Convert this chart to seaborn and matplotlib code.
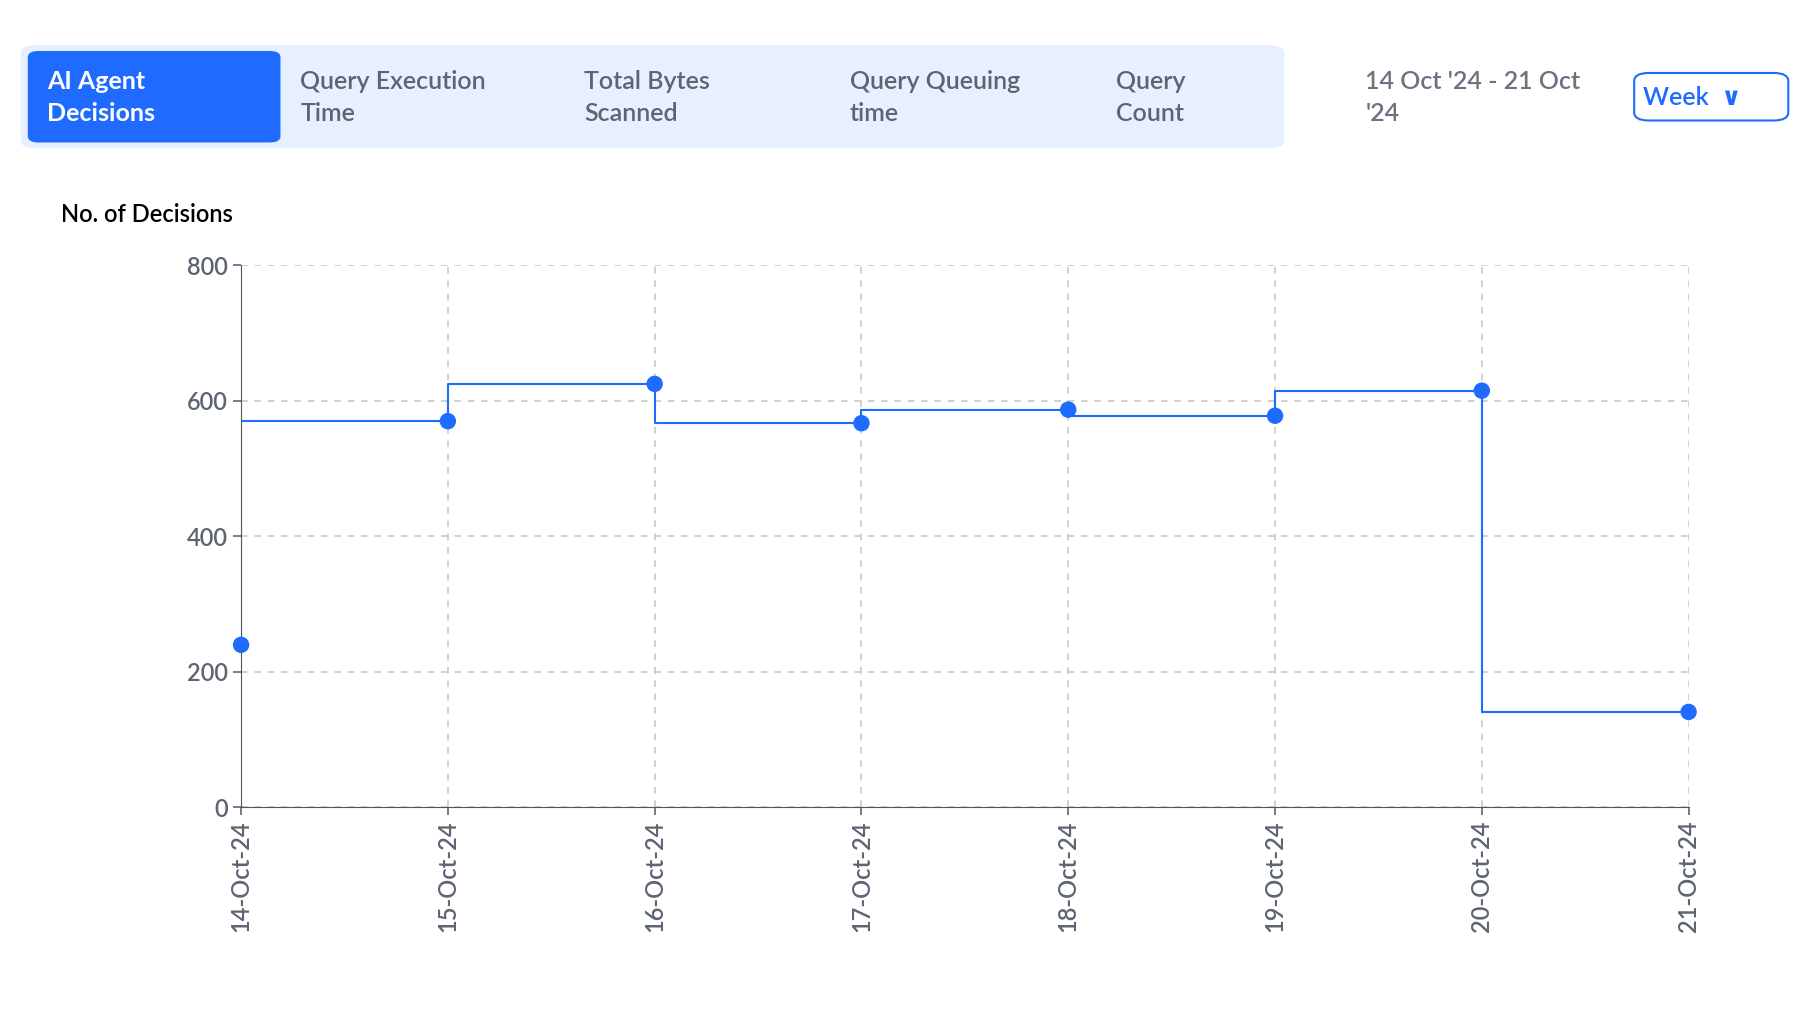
import matplotlib.pyplot as plt
import matplotlib.patches as patches
import seaborn as sns
import pandas as pd

dates = ["14-Oct-24", "15-Oct-24", "16-Oct-24", "17-Oct-24",
         "18-Oct-24", "19-Oct-24", "20-Oct-24", "21-Oct-24"]
decisions = [240, 570, 625, 567, 587, 578, 615, 141]
tabs = ["AI Agent\nDecisions", "Query Execution\nTime", "Total Bytes\nScanned",
        "Query Queuing\ntime", "Query\nCount"]
tab_x = [0.026, 0.166, 0.323, 0.470, 0.617]

sns.set_style("white")
plt.rcParams['font.family'] = ['Lato', 'DejaVu Sans']

W, H = 1560, 877
fig = plt.figure(figsize=(18.08, 10.16), dpi=100)
blue = "#1f6bff"
grey = "#5d6472"

# tab bar
fig.patches.append(patches.FancyBboxPatch((18 / W, 1 - 128 / H), 1090 / W, 89 / H,
                   boxstyle="round,pad=0,rounding_size=0.008", transform=fig.transFigure,
                   facecolor="#e7f0ff", edgecolor="none"))
fig.patches.append(patches.FancyBboxPatch((24 / W, 1 - 123 / H), 218 / W, 79 / H,
                   boxstyle="round,pad=0,rounding_size=0.006", transform=fig.transFigure,
                   facecolor=blue, edgecolor="none"))
for i, (t, x) in enumerate(zip(tabs, tab_x)):
    fig.text(x, 1 - 84 / H, t, color="white" if i == 0 else grey, fontsize=18,
             fontweight="bold" if i == 0 else "semibold", va="center", ha="left",
             linespacing=1.5)
fig.text(1178 / W, 1 - 84 / H, "14 Oct '24 - 21 Oct\n'24", color="#6b7280",
         fontsize=18, fontweight="semibold", va="center", linespacing=1.5)
fig.patches.append(patches.FancyBboxPatch((1410 / W, 1 - 104 / H), 133 / W, 41 / H,
                   boxstyle="round,pad=0,rounding_size=0.008", transform=fig.transFigure,
                   facecolor="white", edgecolor=blue, linewidth=1.5))
fig.text(1460 / W, 1 - 84 / H, "Week  \u2228", color=blue, fontsize=18,
         fontweight="semibold", va="center", ha="center")
fig.text(53 / W, 1 - 185 / H, "No. of Decisions", color="black", fontsize=17,
         fontweight="semibold", va="center")

ax = fig.add_axes([208 / W, 1 - 697 / H, (1457 - 208) / W, (697 - 229) / H])
df = pd.DataFrame({"date": dates, "decisions": decisions, "x": range(len(dates))})
ax.plot(df["x"], df["decisions"], drawstyle="steps-pre", color=blue, linewidth=1.5)
sns.scatterplot(data=df, x="x", y="decisions", color=blue, s=140, edgecolor="none",
                ax=ax, zorder=3, clip_on=False)
ax.set_xlim(0, len(dates) - 1)
ax.set_ylim(0, 800)
ax.set_yticks([0, 200, 400, 600, 800])
ax.set_xticks(df["x"])
ax.set_xticklabels(dates, rotation=90)
ax.grid(True, linestyle=(0, (4, 4)), color="#c8c8c8", linewidth=1.2)
for s in ["top", "right"]:
    ax.spines[s].set_visible(False)
for s in ["left", "bottom"]:
    ax.spines[s].set_color("#555555")
ax.tick_params(axis="both", colors=grey, labelsize=17, length=6, width=1.2,
               bottom=True, left=True)
for lab in ax.get_xticklabels() + ax.get_yticklabels():
    lab.set_fontweight("semibold")
ax.set_xlabel("")
ax.set_ylabel("")

fig.savefig("out.png", dpi=100)
